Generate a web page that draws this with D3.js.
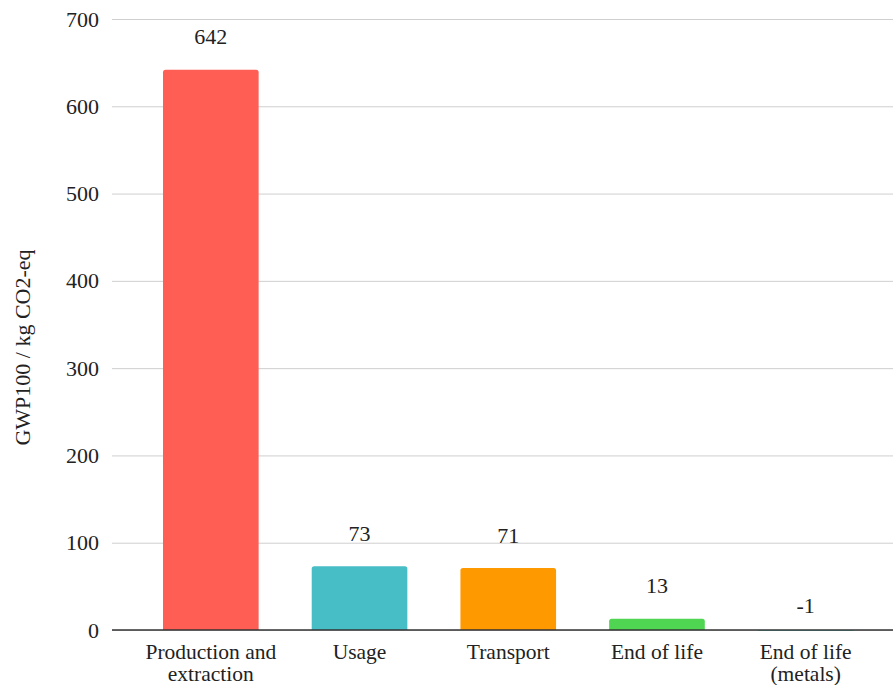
<!DOCTYPE html>
<html>
<head>
<meta charset="utf-8">
<script src="https://cdn.jsdelivr.net/npm/d3@7"></script>
<style>
  html, body { margin: 0; padding: 0; background: #fff; }
  svg { display: block; }
  svg text { font-family: "Liberation Serif", "Times New Roman", serif; }
</style>
</head>
<body>
<svg id="chart" width="893" height="685"></svg>
<script>
// Global warming potential by life-cycle stage
const categories = [["Production and", "extraction"], ["Usage"], ["Transport"], ["End of life"], ["End of life", "(metals)"]];
const values = [642, 73, 71, 13, -1];
const colors = ["#ff5e54", "#47bdc6", "#ff9900", "#4fd551", "#47bdc6"];
const yTicks = [0, 100, 200, 300, 400, 500, 600, 700];
const yTitle = "GWP100 / kg CO2-eq";

const FONT = "'Liberation Serif', 'Times New Roman', serif";
const svg = d3.select("#chart");
const plot = { left: 112, right: 893, top: 19, bottom: 630 };

const keys = categories.map((c, i) => i);
const x = d3.scaleBand().domain(keys).range([163, 853.5]).paddingInner(0.357).paddingOuter(0);
const y = d3.scaleLinear().domain([0, 700]).range([plot.bottom, plot.top]);

// Horizontal gridlines and tick labels
const yAxis = d3.axisLeft(y).tickValues(yTicks).tickSize(-(plot.right - plot.left)).tickPadding(13).tickFormat(d3.format("d"));
const gy = svg.append("g").attr("transform", `translate(${plot.left},0)`).call(yAxis)
  .attr("font-family", FONT).attr("font-size", 22);
gy.select(".domain").remove();
gy.selectAll(".tick line").attr("stroke", "#cfcfcf").attr("stroke-width", 1);
gy.selectAll(".tick text").attr("fill", "#222");

// Bars with slightly rounded top corners
const r = 2.5;
function barPath(x0, w, yTop, yBase) {
  const h = yBase - yTop;
  if (h <= r * 2) return `M${x0},${yBase}V${yTop}H${x0 + w}V${yBase}Z`;
  return `M${x0},${yBase}V${yTop + r}Q${x0},${yTop} ${x0 + r},${yTop}H${x0 + w - r}Q${x0 + w},${yTop} ${x0 + w},${yTop + r}V${yBase}Z`;
}
svg.append("g").selectAll("path").data(values).join("path")
  .attr("d", (v, i) => {
    const top = y(Math.max(0, v)), base = y(Math.min(0, v));
    return barPath(x(i), x.bandwidth(), top, base);
  })
  .attr("fill", (v, i) => colors[i]);

// Zero baseline
svg.append("line")
  .attr("x1", plot.left).attr("x2", plot.right)
  .attr("y1", y(0)).attr("y2", y(0))
  .attr("stroke", "#333").attr("stroke-width", 1.3);

// Value labels
svg.append("g").attr("font-family", FONT).selectAll("text").data(values).join("text")
  .attr("x", (v, i) => x(i) + x.bandwidth() / 2)
  .attr("y", v => y(Math.max(0, v)) - (v < 0 ? 17 : 25.5))
  .attr("text-anchor", "middle")
  .attr("font-size", 22).attr("fill", "#222")
  .text(v => v);

// Category labels, one text per line
const lines = [];
categories.forEach((c, i) => c.forEach((t, j) => lines.push({ i, j, t })));
svg.append("g").attr("font-family", FONT).selectAll("text").data(lines).join("text")
  .attr("text-anchor", "middle")
  .attr("font-size", 21.5).attr("fill", "#222")
  .attr("x", d => x(d.i) + x.bandwidth() / 2)
  .attr("y", d => 659 + d.j * 22)
  .text(d => d.t);

// Y axis title
svg.append("text")
  .attr("transform", `translate(30,${(plot.top + plot.bottom) / 2 + 23}) rotate(-90)`)
  .attr("text-anchor", "middle")
  .attr("font-family", FONT)
  .attr("font-size", 22).attr("fill", "#222")
  .text(yTitle);
</script>
</body>
</html>
